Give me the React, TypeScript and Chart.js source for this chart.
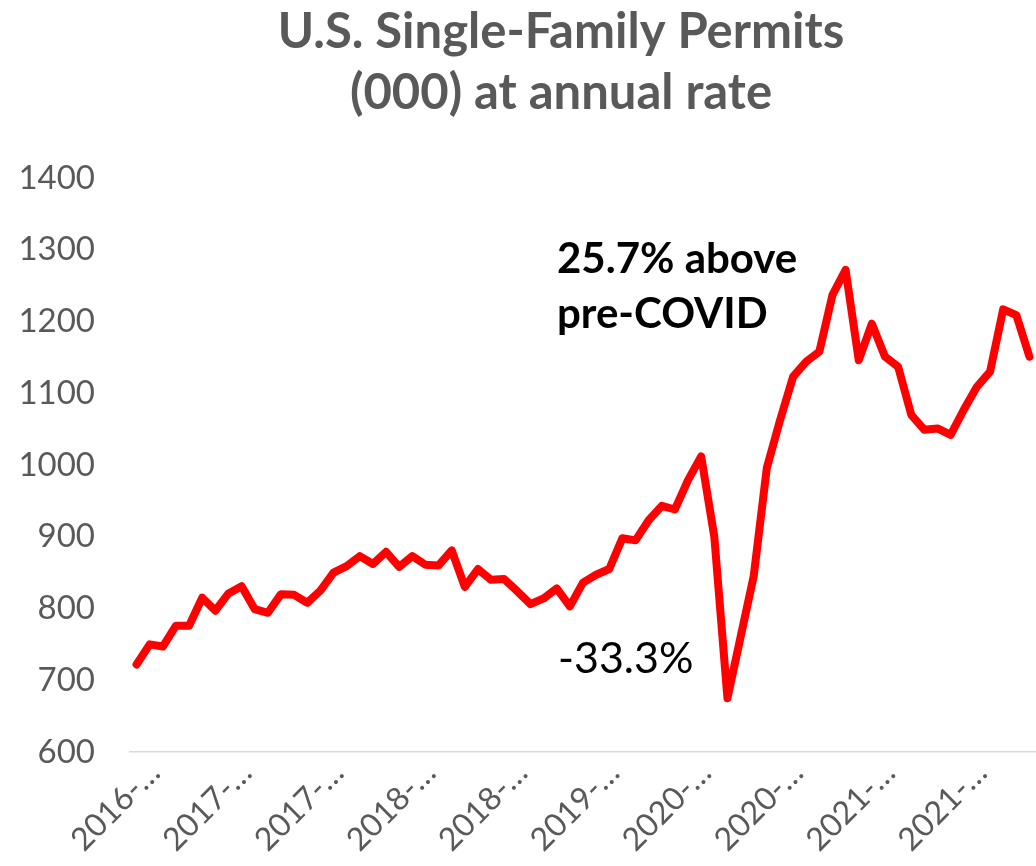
import React, { useEffect, useRef } from "react";
import { Chart, registerables } from "chart.js";

Chart.register(...registerables);

// Monthly, Jul 2016 – Mar 2022
const startYear = 2016;
const startMonth = 7;
const months: string[] = [];
for (let i = 0; i < 69; i++) {
  const m = startMonth - 1 + i;
  const y = startYear + Math.floor(m / 12);
  const mm = (m % 12) + 1;
  months.push(`${y}-${String(mm).padStart(2, "0")}`);
}

const permits: number[] = [
  722, 750, 747, 776, 776, 815, 797, 821, 831, 799, 794, 820,
  819, 808, 825, 850, 859, 873, 862, 879, 858, 873, 861, 860,
  881, 830, 855, 840, 841, 824, 806, 814, 828, 803, 836, 847,
  855, 898, 895, 923, 943, 938, 979, 1012, 900, 675, 760, 845,
  996, 1062, 1123, 1144, 1158, 1237, 1272, 1146, 1197, 1151, 1137, 1070,
  1049, 1051, 1042, 1077, 1109, 1130, 1217, 1209, 1151,
];

const yTicks = [600, 700, 800, 900, 1000, 1100, 1200, 1300, 1400];
const titleLines = ["U.S. Single-Family Permits", "(000) at annual rate"];
const annotationUp = ["25.7% above", "pre-COVID"];
const annotationDown = "-33.3%";

const FONT = "Lato, 'Open Sans', sans-serif";

const overlayPlugin = {
  id: "overlay",
  afterDraw(chart: any) {
    const ctx = chart.ctx;
    ctx.save();
    ctx.fillStyle = "#595959";
    ctx.font = `bold 49px ${FONT}`;
    ctx.textAlign = "center";
    ctx.textBaseline = "alphabetic";
    ctx.fillText(titleLines[0], 561, 48);
    ctx.fillText(titleLines[1], 561, 109);

    ctx.fillStyle = "#000000";
    ctx.textAlign = "left";
    ctx.font = `bold 42px ${FONT}`;
    ctx.fillText(annotationUp[0], 557, 273);
    ctx.fillText(annotationUp[1], 557, 328);
    ctx.font = `43px ${FONT}`;
    ctx.fillText(annotationDown, 558, 673);
    ctx.restore();
  },
};

export default function App() {
  const ref = useRef<HTMLCanvasElement | null>(null);
  useEffect(() => {
    if (!ref.current) return;
    const chart = new Chart(ref.current, {
      type: "line",
      data: {
        labels: months,
        datasets: [
          {
            data: permits,
            borderColor: "#ff0000",
            borderWidth: 8,
            pointRadius: 0,
            tension: 0,
            fill: false,
            borderJoinStyle: "round",
            borderCapStyle: "round",
          },
        ],
      },
      options: {
        animation: false,
        responsive: false,
        maintainAspectRatio: false,
        layout: { padding: { top: 178, left: 0, right: 0, bottom: 0 } },
        plugins: {
          legend: { display: false },
          title: { display: false },
          tooltip: { enabled: false },
        },
        scales: {
          x: {
            type: "category",
            offset: true,
            grid: { display: false, drawTicks: false },
            border: { display: true, color: "#d9d9d9", width: 1.5 },
            ticks: {
              autoSkip: false,
              maxRotation: 45,
              minRotation: 45,
              color: "#595959",
              font: { family: FONT, size: 32 },
              padding: 2,
              labelOffset: 18,
              callback: (_v: any, i: number) =>
                i % 7 === 0 ? months[i].slice(0, 5) + "…" : "",
            },
            afterFit: (s: any) => {
              s.height = 114;
              s.paddingLeft = 0;
              s.paddingRight = 0;
            },
          },
          y: {
            min: 600,
            max: 1400,
            afterBuildTicks: (s: any) => {
              s.ticks = yTicks.map((v) => ({ value: v }));
            },
            grid: { display: false, drawTicks: false },
            border: { display: false },
            ticks: {
              color: "#595959",
              font: { family: FONT, size: 33 },
              padding: 35,
              callback: (v: any) => String(v),
            },
            afterFit: (s: any) => {
              s.width = 130;
              s.paddingTop = 0;
              s.paddingBottom = 0;
            },
          },
        },
      },
      plugins: [overlayPlugin],
    });
    return () => chart.destroy();
  }, []);
  return (
    <div style={{ position: "absolute", left: 0, top: 0, width: 1036, height: 866, background: "#fff" }}>
      <canvas ref={ref} width={1036} height={866} style={{ display: "block" }} />
    </div>
  );
}
